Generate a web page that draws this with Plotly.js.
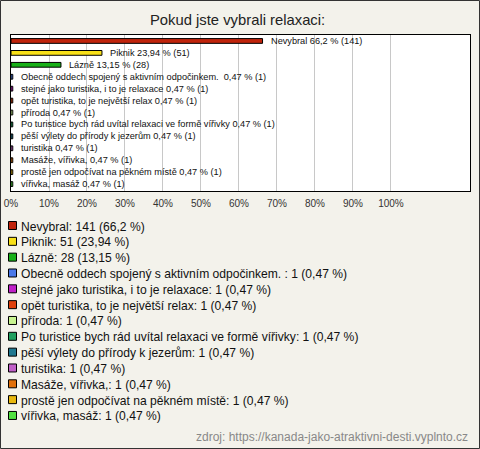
<!DOCTYPE html>
<html>
<head>
<meta charset="utf-8">
<script src="https://cdn.plot.ly/plotly-3.0.1.min.js"></script>
<style>html,body{margin:0;padding:0;background:#f3f2eb;}#chart{width:480px;height:449px;}</style>
</head>
<body>
<div id="chart"></div>
<script>
var categories = [
  "Nevybral",
  "Piknik",
  "Lázně",
  "Obecně oddech spojený s aktivním odpočinkem. ",
  "stejné jako turistika, i to je relaxace",
  "opět turistika, to je největší relax",
  "příroda",
  "Po turistice bych rád uvítal relaxaci ve formě vířivky",
  "pěší výlety do přírody k jezerům",
  "turistika",
  "Masáže, vířivka,",
  "prostě jen odpočívat na pěkném místě",
  "vířivka, masáž"
];
var counts = [141, 51, 28, 1, 1, 1, 1, 1, 1, 1, 1, 1, 1];
var percents = [66.2, 23.94, 13.15, 0.47, 0.47, 0.47, 0.47, 0.47, 0.47, 0.47, 0.47, 0.47, 0.47];
var colors = ["#c0240c", "#f8e018", "#18b018", "#4a78e8", "#c020c8", "#e0400c", "#c8f490", "#20a060", "#207890", "#c060c8", "#e0700c", "#e8b810", "#50e040"];
var tickVals = [0, 10, 20, 30, 40, 50, 60, 70, 80, 90, 100];
var tickText = ["0%", "10%", "20%", "30%", "40%", "50%", "60%", "70%", "80%", "90%", "100%"];
var titleText = "Pokud jste vybrali relaxaci:";
var sourceText = "zdroj: https://kanada-jako-atraktivni-desti.vyplnto.cz";

function fmt(p) { return String(p).replace('.', ','); }

var W = 480, H = 449;
var mL = 11, mR = 10, mT = 35, mB = 258;
var pw = W - mL - mR, ph = H - mT - mB;
function px2x(x) { return (x - mL) / pw; }
function px2y(y) { return (H - mB - y) / ph; }

var traces = categories.map(function (c, i) {
  return {
    type: 'bar', orientation: 'h',
    y: [c], x: [percents[i]],
    width: 0.4,
    marker: { color: colors[i], line: { color: '#000', width: 1 } },
    hoverinfo: 'none', showlegend: false
  };
});

var annotations = categories.map(function (c, i) {
  return {
    x: percents[i], y: c, xref: 'x', yref: 'y',
    xanchor: 'left', yanchor: 'middle', xshift: 6,
    text: c + ' ' + fmt(percents[i]) + ' % (' + counts[i] + ')',
    showarrow: false,
    font: { family: 'Liberation Sans, Arial, sans-serif', size: 9.2, color: '#111' }
  };
});

var shapes = [];
var legY0 = 226.5, legStep = 15.83;
categories.forEach(function (c, i) {
  var yc = legY0 + i * legStep;
  annotations.push({
    x: px2x(20), y: px2y(yc), xref: 'paper', yref: 'paper',
    xanchor: 'left', yanchor: 'middle',
    text: c + ': ' + counts[i] + ' (' + fmt(percents[i]) + ' %)',
    showarrow: false, borderpad: 0,
    font: { family: 'Liberation Sans, Arial, sans-serif', size: 12.1, color: '#111' }
  });
  shapes.push({
    type: 'rect', xref: 'paper', yref: 'paper',
    x0: px2x(8.5), x1: px2x(16.5), y0: px2y(yc - 5), y1: px2y(yc + 3),
    fillcolor: colors[i], line: { color: '#000', width: 1 }
  });
});

annotations.push({
  x: px2x(470), y: px2y(437), xref: 'paper', yref: 'paper',
  xanchor: 'right', yanchor: 'middle', text: sourceText, showarrow: false,
  font: { family: 'Liberation Sans, Arial, sans-serif', size: 12, color: '#888' }
});

shapes.push({
  type: 'rect', xref: 'paper', yref: 'paper', layer: 'above',
  x0: px2x(0.5), x1: px2x(479.5), y0: px2y(448.5), y1: px2y(0.5),
  line: { color: '#333', width: 1 }, fillcolor: 'rgba(0,0,0,0)'
});

var layout = {
  width: W, height: H,
  margin: { l: mL, r: mR, t: mT, b: mB, pad: 0 },
  paper_bgcolor: '#f3f2eb', plot_bgcolor: '#ffffff',
  barmode: 'overlay',
  showlegend: false,
  title: {
    text: titleText, x: 0.495, xanchor: 'center', y: 1 - 20 / H, yanchor: 'middle',
    font: { family: 'Liberation Sans, Arial, sans-serif', size: 14.8, color: '#222' }
  },
  xaxis: {
    range: [0, 120.8], tickvals: tickVals, ticktext: tickText,
    showgrid: true, gridcolor: '#c8c8c8', gridwidth: 1,
    zeroline: false, showline: true, mirror: true, linecolor: '#000', linewidth: 1,
    ticks: '', ticklabelstandoff: 3,
    tickfont: { family: 'Liberation Sans, Arial, sans-serif', size: 10, color: '#333' }
  },
  yaxis: {
    type: 'category', categoryorder: 'array', categoryarray: categories,
    range: [12.58, -0.5], showticklabels: false, showgrid: false,
    zeroline: false, showline: true, mirror: true, linecolor: '#000', linewidth: 1, ticks: ''
  },
  annotations: annotations,
  shapes: shapes
};

Plotly.newPlot('chart', traces, layout, { staticPlot: true, displayModeBar: false });
</script>
</body>
</html>
